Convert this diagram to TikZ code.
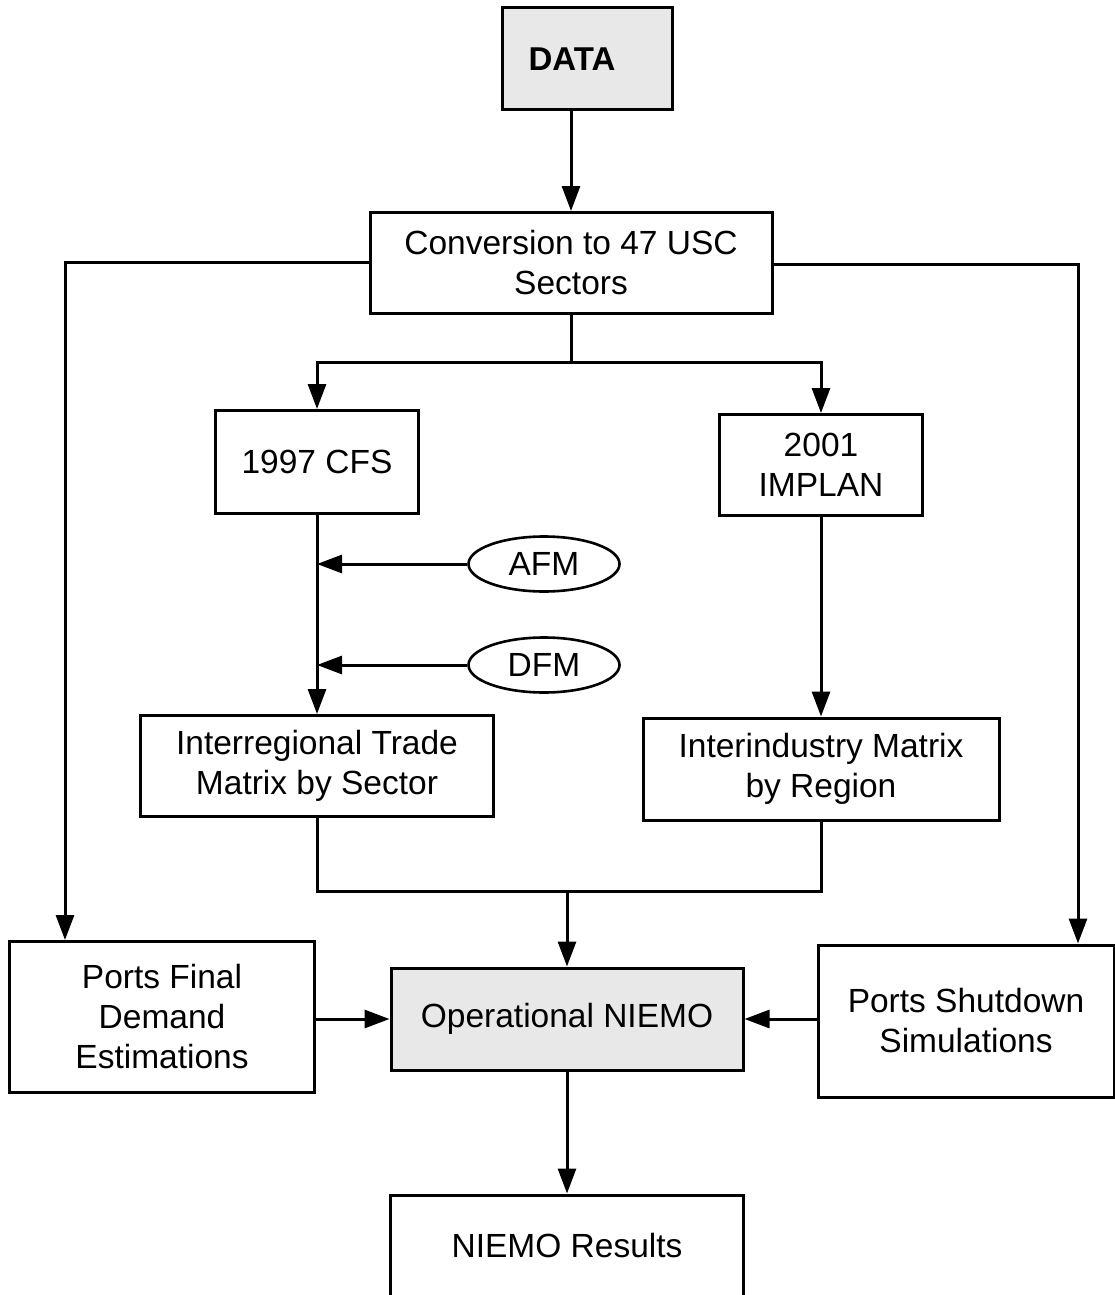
\documentclass[tikz,border=0pt]{standalone}
\usepackage{fontspec}
\setmainfont{Liberation Sans}
\usetikzlibrary{shapes.geometric,arrows.meta}
\begin{document}
\begin{tikzpicture}[x=1pt,y=-1pt,
  every node/.style={font=\fontsize{33.5}{40}\selectfont, align=center, inner sep=0pt},
  box/.style={draw, line width=3pt, rectangle},
  shaded/.style={box, fill=gray!18},
  oval/.style={draw, line width=2.6pt, ellipse, minimum width=151pt, minimum height=55pt},
  conn/.style={line width=3pt},
  arr/.style={conn, -{Triangle[length=25pt,width=18pt]}}]
\clip (0,0) rectangle (1115,1295);
\fill[white] (0,0) rectangle (1115,1295);
\node[shaded, minimum width=170pt, minimum height=102pt, font=\fontsize{33}{40}\selectfont\bfseries] (data) at (587,59) {DATA\kern30pt};
\node[box, minimum width=402pt, minimum height=101pt] (conv) at (571,263) {Conversion to 47 USC\\Sectors};
\node[box, minimum width=203pt, minimum height=103pt] (cfs) at (317,462) {1997 CFS};
\node[box, minimum width=203pt, minimum height=101pt] (implan) at (821,465) {2001\\IMPLAN};
\node[oval] (afm) at (544,564) {AFM};
\node[oval] (dfm) at (544,665) {DFM};
\node[box, minimum width=353pt, minimum height=101pt] (itm) at (317,766) {Interregional Trade\\Matrix by Sector};
\node[box, minimum width=356pt, minimum height=102pt] (iim) at (821,769) {Interindustry Matrix\\by Region};
\node[box, minimum width=305pt, minimum height=151pt] (pf) at (162,1017) {Ports Final\\Demand\\Estimations};
\node[shaded, minimum width=352pt, minimum height=102pt] (niemo) at (567,1019) {Operational NIEMO};
\node[box, minimum width=296pt, minimum height=152pt] (ps) at (966,1021) {Ports Shutdown\\Simulations};
\node[box, minimum width=353pt, minimum height=110pt, text depth=0pt] (res) at (567,1250) {\raisebox{9pt}{NIEMO Results}};
\coordinate (lturn) at (65,262);
\coordinate (rturn) at (1078,264);
\coordinate (split) at (571,362);
\coordinate (merge) at (567,891);
\draw[arr] (conv.north |- data.south) -- (conv.north);
\draw[arr] (conv.west |- lturn) -- (lturn) -- (lturn |- pf.north);
\draw[arr] (conv.east |- rturn) -- (rturn) -- (rturn |- ps.north);
\draw[conn] (conv.south) -- (split);
\draw[arr] (split) -| (cfs.north);
\draw[arr] (split) -| (implan.north);
\draw[arr] (cfs.south) -- (cfs.south |- itm.north);
\draw[arr] (afm.west) -- (afm.west -| cfs.south);
\draw[arr] (dfm.west) -- (dfm.west -| cfs.south);
\draw[arr] (implan.south) -- (implan.south |- iim.north);
\draw[conn] (itm.south) |- (merge) -| (iim.south);
\draw[arr] (merge) -- (niemo.north);
\draw[arr] (pf.east |- niemo.west) -- (niemo.west);
\draw[arr] (ps.west |- niemo.east) -- (niemo.east);
\draw[arr] (niemo.south) -- (res.north);
\end{tikzpicture}
\end{document}
